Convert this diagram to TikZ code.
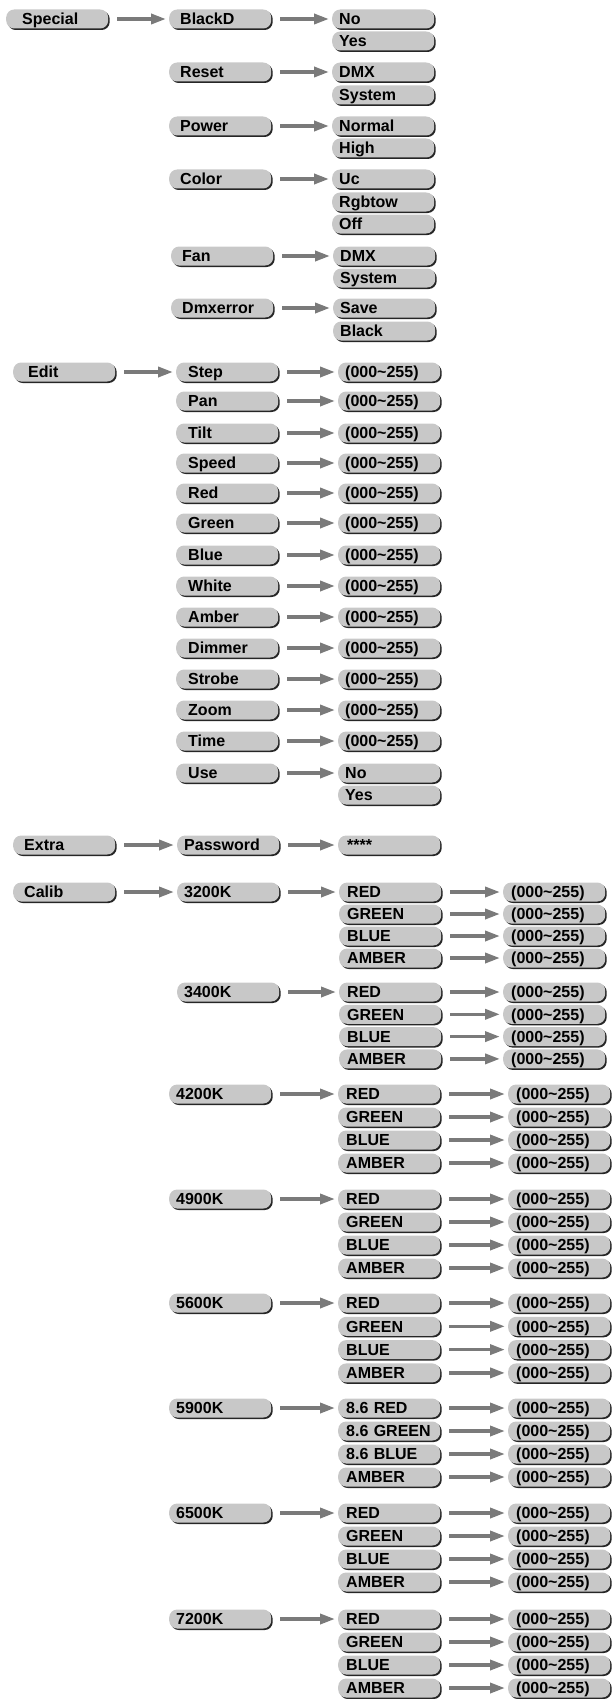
\documentclass[tikz,border=0pt]{standalone}
\usepackage{fontspec}
\setmainfont{Liberation Sans}
\usetikzlibrary{arrows.meta, shadows}
\definecolor{pillgray}{HTML}{C8C8C8}
\definecolor{linkgray}{HTML}{7A7A7A}

\tikzset{
  pill/.style={fill=pillgray, rounded corners=8pt, anchor=west,
    minimum width=102pt, minimum height=19pt, inner sep=0pt,
    text width=#1, align=left, text height=11.5pt, text depth=0pt,
    font=\bfseries\fontsize{16}{18}\selectfont,
    drop shadow={shadow xshift=1.5pt, shadow yshift=-1.5pt, fill=black!85, opacity=1}},
  pill/.default=86pt,
  link/.style={-{Triangle[length=15pt, width=10pt]}, line width=3.5pt,
    draw=linkgray, shorten <=9pt, shorten >=3pt}
}

\begin{document}
\begin{tikzpicture}[x=1pt, y=-1pt]
  \useasboundingbox (0,0) rectangle (614,1699);

  % Special menu
  \node[pill=70pt] (special) at (6,19) {Special};
  \node[pill=80pt] (blackd) at (169,19) {BlackD};
  \node[pill=88pt] (bno) at (332,19) {No};
  \node[pill=88pt] (byes) at (332,41) {Yes};
  \node[pill=80pt] (reset) at (169,72) {Reset};
  \node[pill=88pt] (rdmx) at (332,72) {DMX};
  \node[pill=88pt] (rsys) at (332,95) {System};
  \node[pill=80pt] (power) at (169,126) {Power};
  \node[pill=88pt] (normal) at (332,126) {Normal};
  \node[pill=88pt] (high) at (332,148) {High};
  \node[pill=80pt] (color) at (169,179) {Color};
  \node[pill=88pt] (uc) at (332,179) {Uc};
  \node[pill=88pt] (rgbtow) at (332,202) {Rgbtow};
  \node[pill=88pt] (off) at (332,224) {Off};
  \node[pill=80pt] (fan) at (171,256) {Fan};
  \node[pill=88pt] (fdmx) at (333,256) {DMX};
  \node[pill=88pt] (fsys) at (333,278) {System};
  \node[pill=80pt] (dmxerr) at (171,308) {Dmxerror};
  \node[pill=88pt] (save) at (333,308) {Save};
  \node[pill=88pt] (black) at (333,331) {Black};

  \draw[link] (special) -- (blackd);
  \draw[link] (blackd) -- (bno);
  \draw[link] (reset) -- (rdmx);
  \draw[link] (power) -- (normal);
  \draw[link] (color) -- (uc);
  \draw[link] (fan) -- (fdmx);
  \draw[link] (dmxerr) -- (save);

  % Edit menu
  \node[pill=72pt] (edit) at (13,372) {Edit};
  \foreach \name/\y in {Step/372, Pan/401, Tilt/433, Speed/463, Red/493, Green/523,
      Blue/555, White/586, Amber/617, Dimmer/648, Strobe/679, Zoom/710, Time/741}{
    \node[pill=78pt] (e\name) at (176,\y) {\name};
    \node[pill=88pt] (v\name) at (338,\y) {(000\textasciitilde255)};
    \draw[link] (e\name) -- (v\name);
  }
  \node[pill=78pt] (use) at (176,773) {Use};
  \node[pill=88pt] (uno) at (338,773) {No};
  \node[pill=88pt] (uyes) at (338,795) {Yes};
  \draw[link] (edit) -- (eStep);
  \draw[link] (use) -- (uno);

  % Extra menu
  \node[pill=80pt] (extra) at (13,845) {Extra};
  \node[pill=88pt] (password) at (177,845) {Password};
  \node[pill=84pt] (stars) at (338,845) {****};
  \draw[link] (extra) -- (password);
  \draw[link] (password) -- (stars);

  % Calib menu
  \node[pill=80pt] (calib) at (13,892) {Calib};
  \foreach \k/\y/\xa/\xb/\xc/\dy/\chans in {
      3200K/892/177/339/503/22/{RED,GREEN,BLUE,AMBER},
      3400K/992/177/339/503/22.3/{RED,GREEN,BLUE,AMBER},
      4200K/1094/169/338/508/23/{RED,GREEN,BLUE,AMBER},
      4900K/1199/169/338/508/23/{RED,GREEN,BLUE,AMBER},
      5600K/1303/169/338/508/23.3/{RED,GREEN,BLUE,AMBER},
      5900K/1408/169/338/508/23/{8.6 RED,8.6 GREEN,8.6 BLUE,AMBER},
      6500K/1513/169/338/508/23/{RED,GREEN,BLUE,AMBER},
      7200K/1619/169/338/508/23/{RED,GREEN,BLUE,AMBER}}{
    \node[pill=88pt] (k\k) at (\xa,\y) {\k};
    \foreach \c [count=\j from 0] in \chans {
      \node[pill=86pt] (c\k\j) at (\xb,\y+\j*\dy) {\mbox{\c}};
      \node[pill] (v\k\j) at (\xc,\y+\j*\dy) {(000\textasciitilde255)};
      \draw[link] (c\k\j) -- (v\k\j);
    }
    \draw[link] (k\k) -- (c\k0);
  }
  \draw[link] (calib) -- (k3200K);
\end{tikzpicture}
\end{document}
